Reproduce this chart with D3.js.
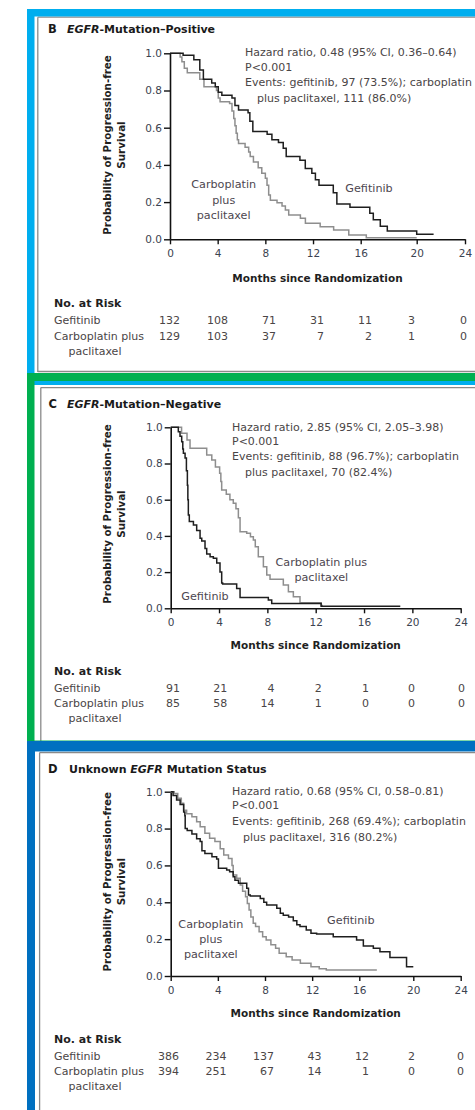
<!DOCTYPE html>
<html>
<head>
<meta charset="utf-8">
<script src="https://cdn.jsdelivr.net/npm/d3@7"></script>
<style>
  html, body { margin: 0; padding: 0; background: #fff; }
  svg { display: block; }
  text { font-family: "DejaVu Sans", "Open Sans", sans-serif; }
</style>
</head>
<body>
<svg id="fig" width="475" height="1110"></svg>
<script>
// ---- shared axis values ----
const monthTicks = [0, 4, 8, 12, 16, 20, 24];
const probTicks = [0, 0.2, 0.4, 0.6, 0.8, 1.0];

// ---- B: EGFR mutation positive ----
// Kaplan–Meier steps: [month, probability after the step]
const posGefitinib = [[0,1],[1.1,0.99],[2.0,0.965],[2.5,0.91],[2.8,0.86],[3.5,0.84],[3.8,0.82],[4.05,0.79],[4.35,0.775],[5.2,0.76],[5.45,0.72],[5.75,0.695],[6.55,0.68],[6.7,0.635],[6.95,0.58],[8.15,0.565],[8.55,0.535],[9.1,0.52],[9.5,0.49],[9.75,0.445],[10.9,0.425],[11.35,0.38],[11.9,0.355],[12.2,0.32],[12.5,0.29],[13.7,0.25],[14.0,0.19],[15.1,0.172],[16.65,0.14],[16.9,0.105],[17.4,0.07],[17.9,0.045],[20.0,0.027]];
const posGefitinibEnd = 21.4;
const posCarbo = [[0,1],[0.85,0.98],[1.0,0.955],[1.2,0.92],[1.45,0.895],[2.5,0.86],[2.85,0.82],[3.9,0.8],[4.05,0.76],[4.2,0.74],[5.0,0.73],[5.2,0.69],[5.35,0.65],[5.45,0.61],[5.55,0.57],[5.65,0.535],[5.75,0.515],[6.3,0.495],[6.6,0.47],[6.73,0.445],[7.0,0.415],[7.4,0.385],[7.7,0.355],[8.0,0.328],[8.14,0.29],[8.28,0.238],[8.42,0.21],[8.98,0.197],[9.4,0.179],[9.68,0.158],[9.96,0.131],[10.94,0.113],[11.36,0.086],[12.6,0.068],[13.73,0.05],[15.0,0.023],[16.4,0.008]];
const posCarboEnd = 20.0;
const posRiskGefitinib = [132, 108, 71, 31, 11, 3, 0];
const posRiskCarbo = [129, 103, 37, 7, 2, 1, 0];
const posStats = ["Hazard ratio, 0.48 (95% CI, 0.36\u20130.64)", "P<0.001", "Events: gefitinib, 97 (73.5%); carboplatin", "plus paclitaxel, 111 (86.0%)"];

// ---- C: EGFR mutation negative ----
const negGefitinib = [[0,1],[0.63,0.976],[0.77,0.95],[0.91,0.92],[1.0,0.88],[1.05,0.856],[1.19,0.83],[1.3,0.76],[1.38,0.68],[1.42,0.6],[1.46,0.516],[1.54,0.48],[1.88,0.46],[2.15,0.43],[2.43,0.387],[2.57,0.372],[2.84,0.33],[2.98,0.30],[3.26,0.285],[3.53,0.276],[3.81,0.25],[4.08,0.2],[4.22,0.14],[4.3,0.134],[5.46,0.11],[5.74,0.059],[8.08,0.046],[8.36,0.026],[12.45,0.011]];
const negGefitinibEnd = 19.0;
const negCarbo = [[0,1],[0.9,0.967],[1.35,0.93],[1.6,0.884],[2.98,0.847],[3.4,0.82],[3.7,0.78],[4.05,0.746],[4.15,0.7],[4.22,0.654],[4.6,0.63],[4.9,0.6],[5.18,0.58],[5.4,0.55],[5.6,0.5],[5.74,0.423],[6.29,0.414],[6.6,0.395],[6.84,0.377],[7.0,0.34],[7.25,0.285],[7.67,0.23],[7.95,0.184],[8.22,0.16],[9.32,0.129],[9.74,0.092],[10.15,0.064],[10.7,0.031],[12.45,0.016]];
const negCarboEnd = 12.6;
const negRiskGefitinib = [91, 21, 4, 2, 1, 0, 0];
const negRiskCarbo = [85, 58, 14, 1, 0, 0, 0];
const negStats = ["Hazard ratio, 2.85 (95% CI, 2.05\u20133.98)", "P<0.001", "Events: gefitinib, 88 (96.7%); carboplatin", "plus paclitaxel, 70 (82.4%)"];

// ---- D: unknown EGFR mutation status ----
const unkGefitinib = [[0,1],[0.2,0.98],[0.5,0.955],[0.8,0.93],[1.1,0.89],[1.2,0.87],[1.23,0.80],[1.4,0.79],[1.8,0.77],[2.2,0.745],[2.5,0.73],[2.65,0.68],[2.9,0.665],[3.5,0.647],[3.9,0.635],[4.05,0.584],[4.75,0.575],[5.0,0.566],[5.3,0.539],[5.45,0.52],[5.75,0.503],[6.45,0.476],[6.6,0.44],[6.75,0.434],[7.6,0.42],[7.9,0.40],[8.14,0.385],[9.0,0.367],[9.3,0.34],[9.55,0.33],[10.0,0.32],[10.4,0.30],[10.7,0.278],[10.97,0.268],[11.5,0.25],[11.9,0.232],[12.38,0.228],[13.79,0.213],[15.77,0.195],[16.3,0.163],[17.04,0.15],[17.53,0.132],[18.27,0.1],[19.5,0.05]];
const unkGefitinibEnd = 20.0;
const unkCarbo = [[0,1],[0.3,0.99],[0.6,0.964],[0.9,0.937],[1.1,0.9],[1.35,0.88],[1.8,0.864],[2.2,0.837],[2.5,0.81],[2.9,0.774],[3.3,0.747],[3.75,0.73],[4.2,0.69],[4.5,0.656],[4.9,0.638],[5.2,0.6],[5.3,0.548],[5.6,0.53],[5.9,0.494],[6.1,0.46],[6.35,0.43],[6.5,0.394],[6.65,0.358],[6.8,0.32],[7.0,0.286],[7.2,0.268],[7.5,0.24],[7.8,0.213],[8.1,0.195],[8.5,0.17],[8.9,0.15],[9.2,0.123],[9.8,0.105],[10.3,0.087],[11.0,0.069],[11.9,0.05],[12.6,0.04],[13.2,0.033]];
const unkCarboEnd = 17.3;
const unkRiskGefitinib = [386, 234, 137, 43, 12, 2, 0];
const unkRiskCarbo = [394, 251, 67, 14, 1, 0, 0];
const unkStats = ["Hazard ratio, 0.68 (95% CI, 0.58\u20130.81)", "P<0.001", "Events: gefitinib, 268 (69.4%); carboplatin", "plus paclitaxel, 316 (80.2%)"];

// ---- drawing ----
const svg = d3.select("#fig");
const TEXT = "#4a4546";
const TICK = "#3c4350";
const DARK = "#1e1e1e";
const GRAY = "#8e8e8e";
const BODY = "11px";

// coloured panel frames, drawn in order so each one overlaps the previous
function frame(color, x0, y0, x1, y1, top, left, bottom) {
  const g = svg.append("g").attr("fill", color);
  g.append("rect").attr("x", x0).attr("y", y0).attr("width", x1 - x0).attr("height", top);
  g.append("rect").attr("x", x0).attr("y", y0).attr("width", left).attr("height", y1 - y0);
  if (bottom) g.append("rect").attr("x", x0).attr("y", y1 - bottom).attr("width", x1 - x0).attr("height", bottom);
}
function innerBorder(x, y0, y1, yBottom) {
  const g = svg.append("g").attr("stroke", "#8a8a8a").attr("stroke-width", 1.3).attr("fill", "none");
  g.append("line").attr("x1", x).attr("x2", 475).attr("y1", y0).attr("y2", y0);
  g.append("line").attr("x1", x).attr("x2", x).attr("y1", y0).attr("y2", y1);
  if (yBottom) g.append("line").attr("x1", x).attr("x2", 475).attr("y1", yBottom).attr("y2", yBottom);
}

innerBorder(37.8, 17.2, 372, 371.5);
innerBorder(40.8, 387.6, 741);
innerBorder(39.6, 752.6, 1110);
frame("#00aeef", 27, 9, 475, 385, 7.5, 7.5, 7);
frame("#00b050", 27, 373, 475, 747.5, 8, 7.5, 7);
frame("#0070c0", 27, 741, 475, 1110, 10.5, 8);

const panels = [
  {
    letter: "B", title: [["EGFR", true], ["-Mutation\u2013Positive", false]],
    gef: posGefitinib, gefEnd: posGefitinibEnd, carbo: posCarbo, carboEnd: posCarboEnd,
    riskGef: posRiskGefitinib, riskCarbo: posRiskCarbo, stats: posStats,
    titleY: 33, letterX: 48, titleX: 67,
    xDomain: [0, 16, 20, 24], xRange: [170, 360.7, 416.7, 465], yRange: [239.3, 53.3],
    statsX: 245, statsIndent: 257, statsY: [55.5, 71, 86, 102],
    yLabelCy: 145, xTitleY: 282,
    riskY: [307, 324, 340, 354.5], riskRange: [180, 372, 415, 467],
    labels: [
      { lines: ["Carboplatin", "plus", "paclitaxel"], x: 223.7, y: [188, 203.5, 219] },
      { lines: ["Gefitinib"], x: 369, y: [192] }
    ]
  },
  {
    letter: "C", title: [["EGFR", true], ["-Mutation\u2013Negative", false]],
    gef: negGefitinib, gefEnd: negGefitinibEnd, carbo: negCarbo, carboEnd: negCarboEnd,
    riskGef: negRiskGefitinib, riskCarbo: negRiskCarbo, stats: negStats,
    titleY: 408, letterX: 48.5, titleX: 67,
    xDomain: [0, 24], xRange: [170.7, 460.7], yRange: [608.3, 427.3],
    statsX: 232, statsIndent: 245, statsY: [430.5, 444.5, 460, 475.5],
    yLabelCy: 514, xTitleY: 649,
    riskY: [675, 692, 707, 722], riskRange: [180, 369, 415, 465],
    labels: [
      { lines: ["Carboplatin plus", "paclitaxel"], x: 321.3, y: [566, 581] },
      { lines: ["Gefitinib"], x: 205, y: [600] }
    ]
  },
  {
    letter: "D", title: [["Unknown ", false], ["EGFR", true], [" Mutation Status", false]],
    gef: unkGefitinib, gefEnd: unkGefitinibEnd, carbo: unkCarbo, carboEnd: unkCarboEnd,
    riskGef: unkRiskGefitinib, riskCarbo: unkRiskCarbo, stats: unkStats,
    titleY: 773, letterX: 48, titleX: 69,
    xDomain: [0, 16, 20, 24], xRange: [170.7, 359.3, 413.3, 460.7], yRange: [976, 791.7],
    statsX: 232, statsIndent: 243, statsY: [795, 809, 825, 841],
    yLabelCy: 881.7, xTitleY: 1017,
    riskY: [1043, 1060, 1075, 1090], riskRange: [179, 369, 415, 464],
    labels: [
      { lines: ["Carboplatin", "plus", "paclitaxel"], x: 210.8, y: [927.5, 943, 958] },
      { lines: ["Gefitinib"], x: 350.8, y: [923.5] }
    ]
  }
];

panels.forEach(p => {
  const g = svg.append("g");
  const x = d3.scaleLinear().domain(p.xDomain).range(p.xRange);
  const y = d3.scaleLinear().domain([0, 1]).range(p.yRange);

  // heading
  const head = g.append("text").attr("y", p.titleY).attr("fill", "#1a1a1a").attr("font-weight", 700);
  head.append("tspan").attr("x", p.letterX).attr("font-size", "11.5px").text(p.letter);
  p.title.forEach((part, i) => {
    const t = head.append("tspan").attr("font-size", "11px").attr("font-style", part[1] ? "italic" : "normal").text(part[0]);
    if (i === 0) t.attr("x", p.titleX);
  });

  // axes
  const yAxis = d3.axisLeft(y).tickValues(probTicks).tickFormat(d3.format(".1f")).tickSize(6).tickSizeOuter(0).tickPadding(2);
  const xAxis = d3.axisBottom(x).tickValues(monthTicks).tickSize(5).tickSizeOuter(0).tickPadding(5.5);
  const ya = g.append("g").attr("transform", `translate(${p.xRange[0]},0)`).call(yAxis);
  const xa = g.append("g").attr("transform", `translate(0,${p.yRange[0]})`).call(xAxis);
  [ya, xa].forEach(a => {
    a.select(".domain").attr("stroke", "#111").attr("stroke-width", 1.6);
    a.selectAll(".tick line").attr("stroke", "#111").attr("stroke-width", 1.4);
    a.selectAll(".tick text").attr("fill", TICK).attr("font-size", "10.5px").attr("font-family", "\"DejaVu Sans\", sans-serif");
  });

  // axis titles
  const yl = g.append("g").attr("font-weight", 700).attr("font-size", "10.3px").attr("fill", "#1f1f1f").attr("text-anchor", "middle");
  yl.append("text").attr("transform", `translate(111,${p.yLabelCy}) rotate(-90)`).text("Probability of Progression-free");
  yl.append("text").attr("transform", `translate(124.5,${p.yLabelCy}) rotate(-90)`).text("Survival");
  g.append("text").attr("x", (p.xRange[0] + p.xRange[p.xRange.length - 1]) / 2).attr("y", p.xTitleY)
    .attr("text-anchor", "middle").attr("font-weight", 700).attr("font-size", "10.5px").attr("fill", "#1f1f1f")
    .text("Months since Randomization");

  // survival curves
  const line = d3.line().x(d => x(d[0])).y(d => y(d[1])).curve(d3.curveStepAfter);
  const full = (pts, end) => pts.concat([[end, pts[pts.length - 1][1]]]);
  g.append("path").attr("d", line(full(p.carbo, p.carboEnd))).attr("fill", "none").attr("stroke", GRAY).attr("stroke-width", 1.5);
  g.append("path").attr("d", line(full(p.gef, p.gefEnd))).attr("fill", "none").attr("stroke", DARK).attr("stroke-width", 1.5);

  // curve labels
  p.labels.forEach(l => {
    l.lines.forEach((s, i) => {
      g.append("text").attr("x", l.x).attr("y", l.y[i]).attr("text-anchor", "middle")
        .attr("font-size", "11.2px").attr("fill", "#4d4750").text(s);
    });
  });

  // hazard ratio block
  p.stats.forEach((s, i) => {
    g.append("text").attr("x", i === 3 ? p.statsIndent : p.statsX).attr("y", p.statsY[i])
      .attr("font-size", BODY).attr("fill", TEXT).text(s);
  });

  // number at risk
  const rx = d3.scaleLinear().domain([0, 16, 20, 24]).range(p.riskRange);
  g.append("text").attr("x", 54).attr("y", p.riskY[0]).attr("font-weight", 700).attr("font-size", "11px").attr("fill", "#1f1f1f").text("No. at Risk");
  g.append("text").attr("x", 54).attr("y", p.riskY[1]).attr("font-size", BODY).attr("fill", TEXT).text("Gefitinib");
  g.append("text").attr("x", 54).attr("y", p.riskY[2]).attr("font-size", BODY).attr("fill", TEXT).text("Carboplatin plus");
  g.append("text").attr("x", 68.5).attr("y", p.riskY[3]).attr("font-size", BODY).attr("fill", TEXT).text("paclitaxel");
  [[p.riskGef, p.riskY[1]], [p.riskCarbo, p.riskY[2]]].forEach(([vals, yy]) => {
    g.selectAll(null).data(vals).enter().append("text")
      .attr("x", (d, i) => rx(monthTicks[i])).attr("y", yy)
      .attr("text-anchor", "end").attr("font-size", BODY).attr("fill", TEXT)
      .text(d => d);
  });
});
</script>
</body>
</html>
